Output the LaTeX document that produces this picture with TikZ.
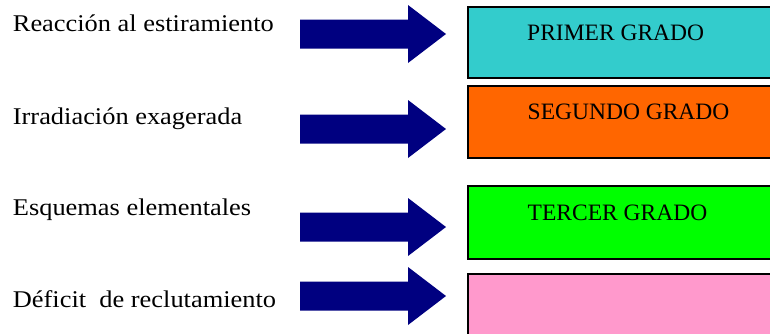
\documentclass[tikz,border=0pt]{standalone}
\usepackage{fontspec}
\setmainfont{Liberation Serif}
\definecolor{navyarrow}{HTML}{000080}
\definecolor{cyanbox}{HTML}{33CCCC}
\definecolor{orangebox}{HTML}{FF6600}
\definecolor{greenbox}{HTML}{00FF00}
\definecolor{pinkbox}{HTML}{FF99CC}
\tikzset{
  lbl/.style={anchor=base west, inner sep=0pt, font=\fontsize{24}{28}\selectfont},
  boxtxt/.style={anchor=base west, inner sep=0pt, font=\fontsize{23.5}{28}\selectfont},
  gradebox/.style={draw=black, line width=1.6pt},
  blockarrow/.style={fill=navyarrow, draw=none}
}
\newcommand{\myblockarrow}[2]{%
  \coordinate (#1) at (446,#2);
  \path[blockarrow] (300,#2-14.5) -- (408,#2-14.5) -- (408,#2-29) -- (#1) -- (408,#2+29) -- (408,#2+14.5) -- (300,#2+14.5) -- cycle;
}
\begin{document}
\begin{tikzpicture}[x=1pt,y=-1pt]
\useasboundingbox (0,0) rectangle (770,333);
\begin{scope}
\clip (0,0) rectangle (770,333);
\fill[cyanbox] (468,7) rectangle (775,78);
\draw[gradebox] (468,7) rectangle (775,78);
\fill[orangebox] (468,86) rectangle (775,158);
\draw[gradebox] (468,86) rectangle (775,158);
\fill[greenbox] (468,186) rectangle (775,259);
\draw[gradebox] (468,186) rectangle (775,259);
\fill[pinkbox] (468,274) rectangle (775,340);
\draw[gradebox] (468,274) rectangle (775,340);
\end{scope}
\node[boxtxt] (g1) at (527,40.5) {PRIMER GRADO};
\node[boxtxt] (g2) at (527.5,119) {SEGUNDO GRADO};
\node[boxtxt] (g3) at (527.5,220) {TERCER GRADO};
\node[lbl] (l1) at (12.7,31.5) {\scalebox{1.1}[1]{Reacción al estiramiento}};
\node[lbl] (l2) at (12.7,124) {\scalebox{1.1}[1]{Irradiación exagerada}};
\node[lbl] (l3) at (12.7,215) {\scalebox{1.1}[1]{Esquemas elementales}};
\node[lbl] (l4) at (12.7,307.5) {\scalebox{1.1}[1]{Déficit\ \ de reclutamiento}};
\myblockarrow{a1}{34}
\myblockarrow{a2}{129}
\myblockarrow{a3}{227}
\myblockarrow{a4}{296}
\end{tikzpicture}
\end{document}
